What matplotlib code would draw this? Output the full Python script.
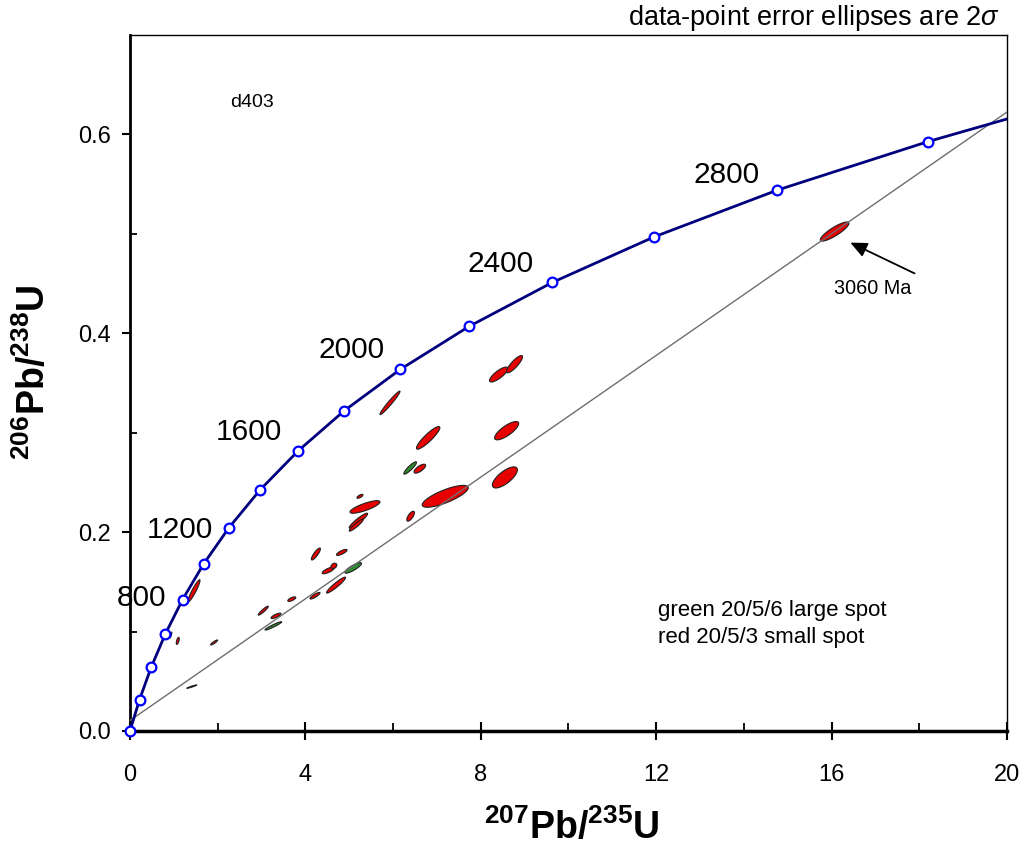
import numpy as np
import matplotlib
matplotlib.use("Agg")
import matplotlib.pyplot as plt

plt.rcParams['font.family'] = ['Liberation Sans', 'DejaVu Sans']
plt.rcParams['mathtext.fontset'] = 'custom'
plt.rcParams['mathtext.rm'] = 'Liberation Sans'
plt.rcParams['mathtext.bf'] = 'Liberation Sans:bold'
plt.rcParams['mathtext.it'] = 'Liberation Sans:italic'

# ---------------- data ----------------
# concordia ages (Ma) and marker coordinates
conc_ages = [0, 200, 400, 600, 800, 1000, 1200, 1400, 1600, 1800, 2000, 2200, 2400, 2600, 2800, 3000]
conc_x = [0.0, 0.218, 0.483, 0.806, 1.199, 1.677, 2.260, 2.970, 3.835, 4.887, 6.169, 7.730, 9.631, 11.946, 14.765, 18.194]
conc_y = [0.0, 0.0315, 0.0640, 0.0975, 0.1321, 0.1678, 0.2046, 0.2426, 0.2817, 0.3221, 0.3638, 0.4068, 0.4511, 0.4968, 0.5440, 0.5927]
conc_end_x = [18.194, 20.0]
conc_end_y = [0.5927, 0.6155]

age_labels = ['800', '1200', '1600', '2000', '2400', '2800']
age_label_x = [0.26, 1.14, 2.71, 5.06, 8.46, 13.61]
age_label_y = [0.134, 0.2024, 0.301, 0.3827, 0.470, 0.559]

# discordia line
disc_x = [0.0, 20.0]
disc_y = [0.0105, 0.6225]

# red ellipses: centre x, centre y, half-extent x, half-extent y, correlation
red_x = [1.46, 0.93, 1.09, 1.92, 3.04, 3.33, 3.69, 4.22, 4.24, 4.83, 4.52, 4.65, 4.70, 5.245, 5.36,
         5.21, 5.16, 5.93, 6.80, 6.61, 7.19, 6.40, 8.55, 8.59, 8.41, 8.77, 16.07]
red_y = [0.141, 0.0964, 0.0906, 0.089, 0.121, 0.1158, 0.1326, 0.136, 0.178, 0.1796, 0.1614, 0.166, 0.1467, 0.236, 0.2253,
         0.2115, 0.207, 0.330, 0.2948, 0.2638, 0.236, 0.216, 0.255, 0.302, 0.3585, 0.3689, 0.5023]
red_ex = [0.137, 0.025, 0.034, 0.080, 0.114, 0.114, 0.091, 0.114, 0.103, 0.121, 0.137, 0.068, 0.217, 0.068, 0.342,
          0.210, 0.160, 0.228, 0.267, 0.132, 0.525, 0.087, 0.285, 0.274, 0.210, 0.182, 0.326]
red_ey = [0.0111, 0.003, 0.0035, 0.0025, 0.0045, 0.0027, 0.0023, 0.0033, 0.006, 0.003, 0.0033, 0.0027, 0.008, 0.002, 0.0063,
          0.0075, 0.006, 0.0118, 0.0114, 0.0045, 0.011, 0.005, 0.0106, 0.0092, 0.0075, 0.0087, 0.0096]
red_rho = [0.93, 0.8, 0.6, 0.9, 0.93, 0.8, 0.7, 0.85, 0.85, 0.78, 0.75, 0.3, 0.94, 0.7, 0.8,
           0.93, 0.93, 0.97, 0.9, 0.72, 0.78, 0.7, 0.72, 0.78, 0.8, 0.85, 0.86]

# green ellipses
green_x = [5.09, 6.39, 3.27, 1.41]
green_y = [0.164, 0.2645, 0.1057, 0.0446]
green_ex = [0.19, 0.144, 0.19, 0.114]
green_ey = [0.0053, 0.0062, 0.0042, 0.0017]
green_rho = [0.85, 0.9, 0.95, 0.95]

x_ticks = [0, 4, 8, 12, 16, 20]
x_minor = [2, 6, 10, 14, 18]
y_ticks = [0.0, 0.2, 0.4, 0.6]
y_minor = [0.1, 0.3, 0.5]

# ---------------- figure ----------------
fig = plt.figure(figsize=(10.25, 8.47), dpi=100)
ax = fig.add_axes([0.1268, 0.137, 0.8556, 0.8217])
ax.set_xlim(0, 20)
ax.set_ylim(0, 0.7)


def draw_ellipse(cx, cy, ex, ey, rho, color):
    t = np.linspace(0, 2 * np.pi, 120)
    xs = cx + ex * np.cos(t)
    ys = cy + ey * (rho * np.cos(t) + np.sqrt(1 - rho ** 2) * np.sin(t))
    ax.fill(xs, ys, facecolor=color, edgecolor='#202020', linewidth=0.8, zorder=3)


for cx, cy, ex, ey, r in zip(red_x, red_y, red_ex, red_ey, red_rho):
    draw_ellipse(cx, cy, ex, ey, r, '#E60000')
for cx, cy, ex, ey, r in zip(green_x, green_y, green_ex, green_ey, green_rho):
    draw_ellipse(cx, cy, ex, ey, r, '#2F8A2F')

# discordia
ax.plot(disc_x, disc_y, color='#6E6E6E', linewidth=1.0, zorder=4)

# concordia
ax.plot(conc_x, conc_y, color='#00007F', linewidth=2.0, zorder=5, clip_on=False)
ax.plot(conc_end_x, conc_end_y, color='#00007F', linewidth=2.0, zorder=5)
ax.plot(conc_x, conc_y, linestyle='none', marker='o', markersize=7, markerfacecolor='white',
        markeredgecolor='#0000FF', markeredgewidth=1.6, zorder=6, clip_on=False)

for lab, lx, ly in zip(age_labels, age_label_x, age_label_y):
    ax.text(lx, ly, lab, fontsize=21.5, ha='center', va='center', color='black')

ax.text(2.78, 0.632, 'd403', fontsize=14, ha='center', va='center')
ax.text(12.04, 0.1208, 'green 20/5/6 large spot', fontsize=16, ha='left', va='center')
ax.text(12.04, 0.0937, 'red 20/5/3 small spot', fontsize=16, ha='left', va='center')

ax.annotate('', xy=(16.37, 0.4924), xytext=(17.95, 0.459),
            arrowprops=dict(arrowstyle='-|>,head_length=1.0,head_width=0.45', color='black', lw=1.3))
ax.text(16.94, 0.445, '3060 Ma', fontsize=14.3, ha='center', va='center')

fig.text(0.9756, 0.9787, r'data-point error ellipses are 2$\sigma$', fontsize=19.5, ha='right', va='center')

# axes styling
for side in ['top', 'right']:
    ax.spines[side].set_linewidth(1.0)
ax.spines['left'].set_linewidth(2.0)
ax.spines['bottom'].set_linewidth(2.5)

ax.set_xticks(x_ticks)
ax.set_xticks(x_minor, minor=True)
ax.set_yticks(y_ticks)
ax.set_yticks(y_minor, minor=True)
ax.set_xticklabels([str(v) for v in x_ticks])
ax.set_yticklabels(['%.1f' % v for v in y_ticks])
ax.tick_params(axis='x', which='major', direction='inout', length=13, width=1.5, labelsize=17, pad=17)
ax.tick_params(axis='x', which='minor', direction='in', length=6, width=1.3)
ax.tick_params(axis='y', which='major', direction='out', length=6, width=1.5, labelsize=17, pad=8)
ax.tick_params(axis='y', which='minor', direction='in', length=5, width=1.3)

fig.text(0.558, 1 - 828 / 847, r'$^{\mathbf{207}}\mathbf{Pb/}^{\mathbf{235}}\mathbf{U}$', fontsize=27,
         ha='center', va='center')
fig.text(0.033, 1 - 372 / 847, r'$^{\mathbf{206}}\mathbf{Pb/}^{\mathbf{238}}\mathbf{U}$', fontsize=27,
         ha='center', va='center', rotation=90)

fig.savefig('out.png', dpi=100)
